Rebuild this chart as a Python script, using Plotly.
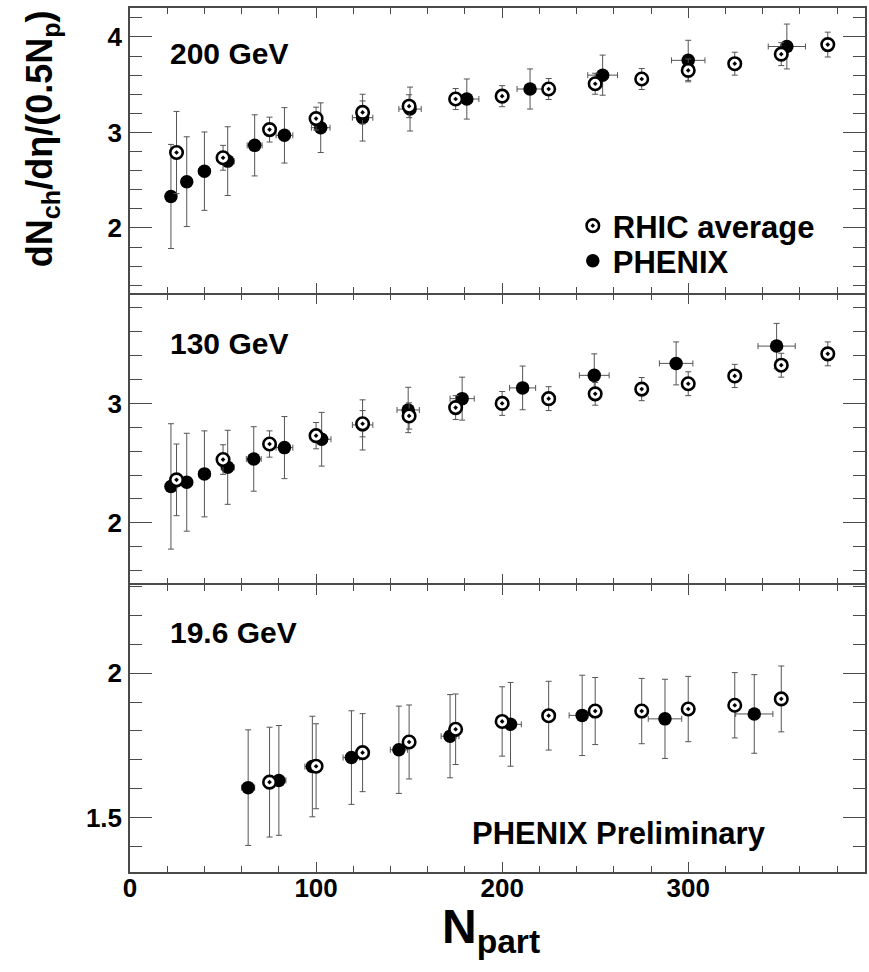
import plotly.graph_objects as go
from plotly.subplots import make_subplots

# ---------------- data ----------------
# 200 GeV
rhic200_x = [25, 50, 75, 100, 125, 150, 175, 200, 225, 250, 275, 300, 325, 350, 375]
rhic200_y = [2.79, 2.735, 3.03, 3.145, 3.21, 3.275, 3.35, 3.38, 3.455, 3.51, 3.56, 3.65, 3.72, 3.82, 3.92]
rhic200_e = [0.43, 0.13, 0.13, 0.12, 0.12, 0.12, 0.11, 0.11, 0.11, 0.11, 0.11, 0.12, 0.12, 0.12, 0.13]
phx200_x = [22, 30.5, 40, 52.5, 67, 83, 102.5, 125, 150.5, 181, 215, 254, 300, 353]
phx200_y = [2.33, 2.485, 2.595, 2.70, 2.865, 2.97, 3.05, 3.155, 3.245, 3.35, 3.455, 3.60, 3.755, 3.90]
phx200_e = [0.545, 0.47, 0.41, 0.36, 0.32, 0.29, 0.26, 0.245, 0.23, 0.21, 0.21, 0.21, 0.21, 0.235]
phx200_xe = [2, 2.5, 3, 3.5, 4, 4.5, 5, 5.5, 6, 6.5, 7, 8, 9, 10]

# 130 GeV
rhic130_x = [25, 50, 75, 100, 125, 150, 175, 200, 225, 250, 275, 300, 325, 350, 375]
rhic130_y = [2.36, 2.53, 2.66, 2.73, 2.83, 2.895, 2.965, 3.0, 3.04, 3.08, 3.12, 3.165, 3.23, 3.32, 3.415]
rhic130_e = [0.30, 0.124, 0.11, 0.11, 0.11, 0.11, 0.10, 0.10, 0.10, 0.095, 0.097, 0.10, 0.097, 0.10, 0.10]
phx130_x = [22, 30.5, 40, 52.5, 66.5, 83, 103, 125, 149.5, 178.5, 211, 249.5, 293.5, 347.5]
phx130_y = [2.305, 2.34, 2.41, 2.465, 2.535, 2.63, 2.70, 2.82, 2.945, 3.04, 3.13, 3.235, 3.335, 3.48]
phx130_e = [0.525, 0.41, 0.36, 0.31, 0.27, 0.26, 0.225, 0.21, 0.19, 0.18, 0.183, 0.18, 0.18, 0.19]
phx130_xe = [2, 2.5, 3, 3.5, 4, 4.5, 5, 5.5, 6, 6.5, 7, 8, 9, 10]

# 19.6 GeV
rhic19_x = [75, 100, 125, 150, 175, 200, 225, 250, 275, 300, 325, 350]
rhic19_y = [1.623, 1.678, 1.725, 1.762, 1.806, 1.833, 1.853, 1.869, 1.869, 1.876, 1.889, 1.911]
rhic19_e = [0.19, 0.147, 0.135, 0.128, 0.122, 0.12, 0.119, 0.116, 0.113, 0.113, 0.113, 0.114]
phx19_x = [63.5, 80, 98, 119, 144.5, 172, 204.5, 243, 287.5, 335.5]
phx19_y = [1.604, 1.629, 1.677, 1.708, 1.735, 1.782, 1.823, 1.854, 1.842, 1.859]
phx19_e = [0.2, 0.19, 0.174, 0.162, 0.151, 0.144, 0.145, 0.139, 0.137, 0.136]
phx19_xe = [3.5, 3.8, 4, 4.5, 4.6, 4.8, 5.8, 7, 9, 10]

panel_labels = ["200 GeV", "130 GeV", "19.6 GeV"]
y_ranges = [[1.317, 4.303], [1.494, 3.91], [1.312, 2.306]]
y_dticks = [1, 1, 0.5]
y_minor = [0.2, 0.2, 0.1]

# ---------------- figure ----------------
FONT = "Liberation Sans, Arial, sans-serif"
AXC = "#4a4a4a"
ERRC = "#555555"
H_PLOT = 864.0
G = 0.75 / H_PLOT  # half-gap so neighbouring frame lines coincide

fig = make_subplots(rows=3, cols=1, shared_xaxes=True, vertical_spacing=0)

panels = [
    (rhic200_x, rhic200_y, rhic200_e, phx200_x, phx200_y, phx200_e, phx200_xe),
    (rhic130_x, rhic130_y, rhic130_e, phx130_x, phx130_y, phx130_e, phx130_xe),
    (rhic19_x, rhic19_y, rhic19_e, phx19_x, phx19_y, phx19_e, phx19_xe),
]

for i, (rx, ry, re, px, py, pe, pxe) in enumerate(panels):
    row = i + 1
    first = (i == 0)
    fig.add_trace(go.Scatter(
        x=px, y=py, mode="markers", name="PHENIX", showlegend=first,
        legend="legend2",
        marker=dict(symbol="circle", size=13.5, color="black", line=dict(width=0)),
        error_y=dict(type="data", array=pe, color=ERRC, thickness=1, width=3),
        error_x=dict(type="data", array=pxe, color=ERRC, thickness=1, width=3),
    ), row=row, col=1)
    fig.add_trace(go.Scatter(
        x=rx, y=ry, mode="markers", name="RHIC average", showlegend=first,
        legend="legend",
        marker=dict(symbol="circle-dot", size=12.5, color="white",
                    line=dict(width=2.6, color="black")),
        error_y=dict(type="data", array=re, color=ERRC, thickness=1, width=3),
    ), row=row, col=1)

b1 = 0.669
b2 = 0.3333
domains = [[b1 + G, 1.0], [b2 + G, b1 - G], [0.0, b2 - G]]
for i in range(3):
    row = i + 1
    fig.update_yaxes(
        row=row, col=1, domain=domains[i], range=y_ranges[i],
        dtick=y_dticks[i], tick0=0, ticks="inside", ticklen=22, tickwidth=1.2,
        tickcolor=AXC, showline=True, linecolor=AXC, linewidth=1.5,
        mirror="ticks", showgrid=False, zeroline=False,
        minor=dict(dtick=y_minor[i], ticks="inside", ticklen=12, tickwidth=1,
                   tickcolor=AXC, showgrid=False),
        tickfont=dict(family=FONT, size=26, color="black", weight="bold"),
        ticklabelstandoff=1,
    )
    fig.update_xaxes(
        row=row, col=1, range=[0, 395], dtick=100, tick0=0,
        ticks="inside", ticklen=10, tickwidth=1.2, tickcolor=AXC,
        showline=True, linecolor=AXC, linewidth=1.5, mirror="ticks",
        showgrid=False, zeroline=False,
        minor=dict(dtick=20, ticks="inside", ticklen=6, tickwidth=1,
                   tickcolor=AXC, showgrid=False),
        tickfont=dict(family=FONT, size=26, color="black", weight="bold"),
        ticklabelstandoff=-8,
    )

annotations = []
label_y = [54, 343, 632]
for i in range(3):
    annotations.append(dict(
        text=panel_labels[i], xref="paper", yref="paper",
        x=(168 - 130) / 737, y=(872 - label_y[i]) / H_PLOT,
        xanchor="left", yanchor="middle", showarrow=False,
        font=dict(family=FONT, size=30, color="black", weight="bold"),
    ))
annotations.append(dict(
    text="PHENIX Preliminary", xref="paper", yref="paper",
    x=(620 - 130) / 737, y=(872 - 833) / H_PLOT, xanchor="center", yanchor="middle",
    showarrow=False, font=dict(family=FONT, size=31, color="black", weight="bold"),
))
annotations.append(dict(
    text="N<sub>part</sub>", xref="paper", yref="paper",
    x=(492 - 130) / 737, y=(872 - 930) / H_PLOT, xanchor="center", yanchor="middle",
    showarrow=False, font=dict(family=FONT, size=48, color="black", weight="bold"),
))
annotations.append(dict(
    text="dN<sub>ch</sub>/dη/(0.5N<sub>p</sub>)", xref="paper", yref="paper",
    x=(42 - 130) / 737, y=(872 - 139) / H_PLOT, xanchor="center", yanchor="middle",
    textangle=-90, showarrow=False,
    font=dict(family=FONT, size=36, color="black", weight="bold"),
))

leg_font = dict(family=FONT, size=31, color="black", weight="bold")
fig.update_layout(
    width=869, height=972,
    margin=dict(l=130, r=2, t=8, b=100),
    paper_bgcolor="white", plot_bgcolor="white",
    annotations=annotations,
    showlegend=True,
    legend=dict(
        x=(574 - 130) / 737, y=(872 - 199) / H_PLOT, xanchor="left", yanchor="top",
        bgcolor="rgba(0,0,0,0)", borderwidth=0, font=leg_font, itemwidth=30,
    ),
    legend2=dict(
        x=(574 - 130) / 737, y=(872 - 234) / H_PLOT, xanchor="left", yanchor="top",
        bgcolor="rgba(0,0,0,0)", borderwidth=0, font=leg_font, itemwidth=30,
    ),
)

fig.write_html("out.html")
